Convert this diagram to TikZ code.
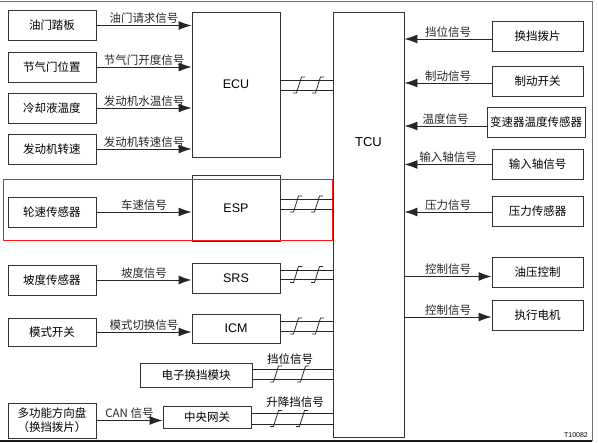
\documentclass[tikz,border=0pt]{standalone}
\usepackage{fontspec}
\setmainfont{Noto Sans CJK SC}
\newfontfamily\latinfont{Liberation Sans}
\usetikzlibrary{arrows.meta}

\begin{document}
\begin{tikzpicture}[
    x=1pt, y=-1pt,
    box/.style={draw=black!80, line width=0.9pt, minimum width=88pt, minimum height=30pt, inner sep=0pt, align=center, font=\fontsize{11.5}{14}\selectfont},
    ctrl/.style={box, font=\latinfont\fontsize{12.5}{14}\selectfont},
    sig/.style={->, line width=0.9pt, black!85},
    bus/.style={line width=0.9pt, black!85},
    lbl/.style={font=\fontsize{11.5}{13}\selectfont, inner sep=1.5pt},
    brk/.pic={\draw[line width=0.8pt, black!85] (-6pt,-8pt) -- (-2.5pt,-8pt) -- (2.5pt,8pt) -- (6pt,8pt);},
    >={Latex[length=13pt,width=9pt]}
]
    \useasboundingbox (0,0) rectangle (598,443);

    % 1. Frame
    \draw[black!55, line width=0.8pt] (0,1) -- (592,1) -- (592,441);
    \draw[black!90, line width=1.4pt] (0,441) -- (592,441);

    % 2. Left column (sensors and switches)
    \node[box] (pedal) at (52,25.5) {油门踏板};
    \node[box] (thr) at (52,67) {节气门位置};
    \node[box] (cool) at (52,108) {冷却液温度};
    \node[box] (rpm) at (52,149) {发动机转速};
    \node[box] (wheel) at (52,212) {轮速传感器};
    \node[box] (slope) at (52,280) {坡度传感器};
    \node[box, minimum height=28pt] (mode) at (52,332) {模式开关};
    \node[box, minimum height=35pt] (steer) at (52,420.5) {多功能方向盘\\（换挡拨片）};

    % 3. Middle column (control units)
    \node[ctrl, minimum height=145pt] (ecu) at (236,84.5) {ECU};
    \node[ctrl, minimum height=66pt] (esp) at (236,208) {ESP};
    \node[ctrl] (srs) at (236,278) {SRS};
    \node[ctrl, minimum height=29pt] (icm) at (236,328.5) {ICM};
    \node[box, minimum width=112pt, minimum height=24pt] (eshift) at (196,375) {电子换挡模块};
    \node[box, minimum height=22pt] (gw) at (207,417) {中央网关};

    % 4. TCU
    \node[draw=black!80, line width=0.9pt, minimum width=71pt, minimum height=425pt] (tcu) at (368.5,224.5) {};
    \node[font=\latinfont\fontsize{13}{15}\selectfont] (tcutxt) at (368.5,142) {TCU};

    % 5. Right column
    \node[box, minimum width=91pt] (paddle) at (537.5,36) {换挡拨片};
    \node[box, minimum width=91pt] (brake) at (537.5,81.5) {制动开关};
    \node[box, minimum width=98pt] (gtemp) at (536,122.5) {变速器温度传感器};
    \node[box, minimum width=91pt] (inshaft) at (537.5,164.5) {输入轴信号};
    \node[box, minimum width=91pt] (press) at (537.5,211) {压力传感器};
    \node[box, minimum width=91pt] (oilp) at (537.5,272) {油压控制};
    \node[box, minimum width=91pt] (motor) at (537.5,315.5) {执行电机};

    % highlight
    \draw[red!90, line width=0.9pt] (3,179) rectangle (tcu.west |- 0,240);

    % Arrows into ECU / ESP / SRS / ICM
    \foreach \n/\m/\t in {pedal/ecu/油门请求信号, thr/ecu/节气门开度信号, cool/ecu/发动机水温信号, rpm/ecu/发动机转速信号, wheel/esp/车速信号, slope/srs/坡度信号, mode/icm/模式切换信号, steer/gw/CAN 信号}
        \draw[sig] (\n.east) -- (\m.west |- \n.east) node[midway, above, lbl] {\t};

    % Arrows into TCU
    \foreach \n/\t/\d in {paddle/挡位信号/-3pt, brake/制动信号/-1.5pt, gtemp/温度信号/-3.5pt, inshaft/输入轴信号/0pt, press/压力信号/-1pt}
        \draw[sig] ([yshift=\d]\n.west) -- ([yshift=\d]tcu.east |- \n.west) node[midway, above, lbl] {\t};

    % Arrows out of TCU
    \foreach \n/\d in {oilp/-4.5pt, motor/-1.5pt}
        \draw[sig] ([yshift=\d]tcu.east |- \n.west) -- ([yshift=\d]\n.west) node[midway, above, lbl] {控制信号};

    % Bus lines to TCU
    \foreach \n/\ya/\yb/\ma/\mb in {ecu/80/90/299/318, esp/199/209/296/317, srs/270/279/296/317, icm/321/331/296/318, eshift/369/379/276/303, gw/413/424/276/302} {
        \draw[bus] (\n.east |- 0,\ya) -- (tcu.west |- 0,\ya);
        \draw[bus] (\n.east |- 0,\yb) -- (tcu.west |- 0,\yb);
        \pic at (\ma,{(\ya+\yb)/2}) {brk};
        \pic at (\mb,{(\ya+\yb)/2}) {brk};
    }
    \node[lbl] (shiftsig) at (290,359) {挡位信号};
    \node[lbl] (updown) at (295,402) {升降挡信号};

    \node[font=\latinfont\fontsize{7}{8}\selectfont] (figno) at (576,435) {T10082};

\end{tikzpicture}
\end{document}
